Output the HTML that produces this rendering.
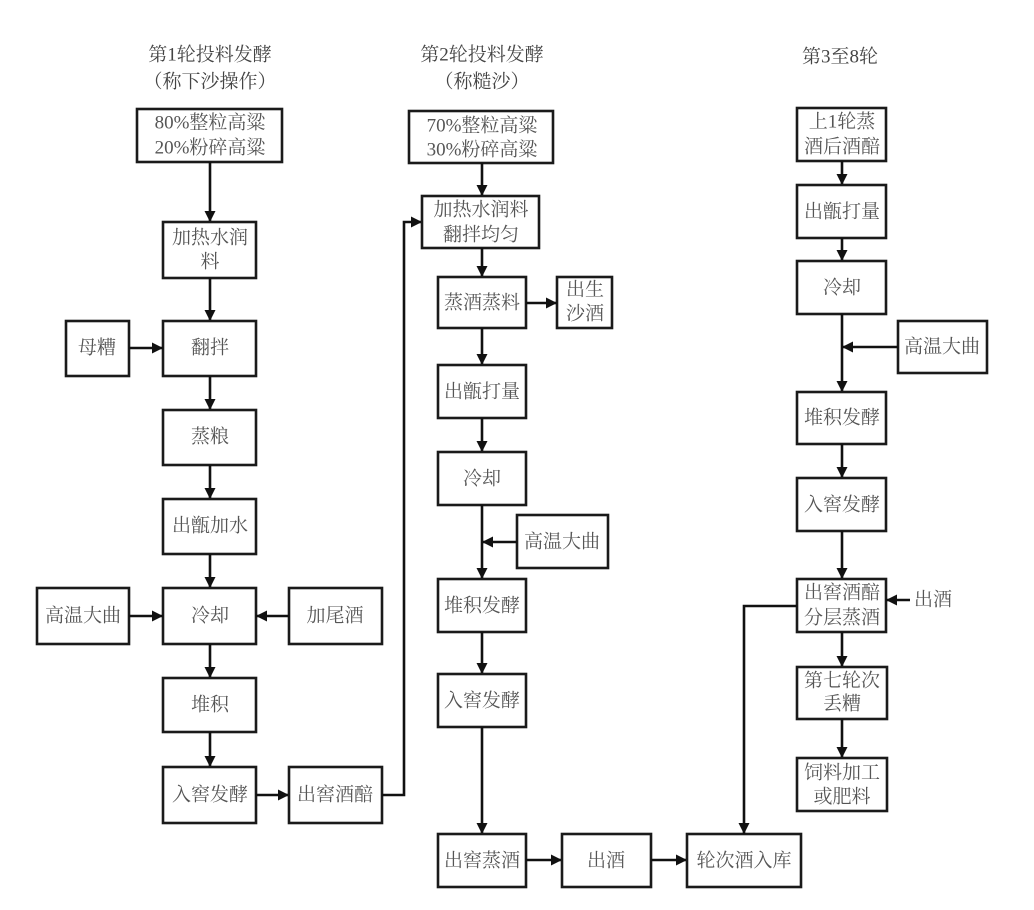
<!DOCTYPE html>
<html><head><meta charset="utf-8">
<style>
html,body{margin:0;padding:0;background:#fff;}
svg{display:block;}
text{font-family:"Liberation Serif","Noto Serif CJK SC","Noto Sans CJK SC",serif;font-size:19px;fill:#555;text-anchor:middle;dominant-baseline:central;}
.t{fill:#444;}
rect{fill:#fff;stroke:#1a1a1a;stroke-width:2.6;}
.l{stroke:#111;stroke-width:2.6;fill:none;}
</style></head>
<body>
<svg width="1034" height="910" viewBox="0 0 1034 910" xmlns="http://www.w3.org/2000/svg">
<defs>
<marker id="a" viewBox="0 0 10 10" refX="10" refY="5" markerWidth="11" markerHeight="11" markerUnits="userSpaceOnUse" orient="auto">
<path d="M0,0 L10,5 L0,10 z" fill="#111"/>
</marker>
</defs>

<!-- Column 1 -->
<text class="t" x="210" y="55">第1轮投料发酵</text>
<text class="t" x="210" y="82">（称下沙操作）</text>

<rect x="137" y="109" width="145" height="53"/>
<text x="210" y="123">80%整粒高粱</text>
<text x="210" y="148">20%粉碎高粱</text>
<line class="l" x1="210" y1="162" x2="210" y2="222" marker-end="url(#a)"/>

<rect x="163" y="222" width="93" height="56"/>
<text x="210" y="238">加热水润</text>
<text x="210" y="262">料</text>
<line class="l" x1="210" y1="278" x2="210" y2="321" marker-end="url(#a)"/>

<rect x="163" y="321" width="93" height="55"/>
<text x="210" y="348">翻拌</text>
<rect x="66" y="321" width="63" height="55"/>
<text x="97" y="348">母糟</text>
<line class="l" x1="129" y1="348" x2="163" y2="348" marker-end="url(#a)"/>
<line class="l" x1="210" y1="376" x2="210" y2="410" marker-end="url(#a)"/>

<rect x="163" y="410" width="93" height="55"/>
<text x="210" y="437">蒸粮</text>
<line class="l" x1="210" y1="465" x2="210" y2="499" marker-end="url(#a)"/>

<rect x="163" y="499" width="93" height="55"/>
<text x="210" y="526">出甑加水</text>
<line class="l" x1="210" y1="554" x2="210" y2="588" marker-end="url(#a)"/>

<rect x="163" y="588" width="93" height="56"/>
<text x="210" y="616">冷却</text>
<rect x="37" y="588" width="92" height="56"/>
<text x="83" y="616">高温大曲</text>
<line class="l" x1="129" y1="616" x2="163" y2="616" marker-end="url(#a)"/>
<rect x="289" y="588" width="93" height="56"/>
<text x="335" y="616">加尾酒</text>
<line class="l" x1="289" y1="616" x2="256" y2="616" marker-end="url(#a)"/>
<line class="l" x1="210" y1="644" x2="210" y2="678" marker-end="url(#a)"/>

<rect x="163" y="678" width="93" height="54"/>
<text x="210" y="705">堆积</text>
<line class="l" x1="210" y1="732" x2="210" y2="767" marker-end="url(#a)"/>

<rect x="163" y="767" width="93" height="56"/>
<text x="210" y="795">入窖发酵</text>
<line class="l" x1="256" y1="795" x2="289" y2="795" marker-end="url(#a)"/>
<rect x="289" y="767" width="93" height="56"/>
<text x="335" y="795">出窖酒醅</text>
<polyline class="l" points="382,795 404,795 404,222 422,222" marker-end="url(#a)"/>

<!-- Column 2 -->
<text class="t" x="482" y="55">第2轮投料发酵</text>
<text class="t" x="482" y="82">（称糙沙）</text>

<rect x="409" y="111" width="144" height="52"/>
<text x="482" y="126">70%整粒高粱</text>
<text x="482" y="150">30%粉碎高粱</text>
<line class="l" x1="482" y1="163" x2="482" y2="196" marker-end="url(#a)"/>

<rect x="422" y="196" width="117" height="52"/>
<text x="481" y="210">加热水润料</text>
<text x="481" y="235">翻拌均匀</text>
<line class="l" x1="482" y1="248" x2="482" y2="277" marker-end="url(#a)"/>

<rect x="438" y="277" width="88" height="51"/>
<text x="482" y="303">蒸酒蒸料</text>
<rect x="557" y="277" width="55" height="51"/>
<text x="585" y="290">出生</text>
<text x="585" y="314">沙酒</text>
<line class="l" x1="526" y1="303" x2="557" y2="303" marker-end="url(#a)"/>
<line class="l" x1="482" y1="328" x2="482" y2="365" marker-end="url(#a)"/>

<rect x="438" y="365" width="88" height="53"/>
<text x="482" y="392">出甑打量</text>
<line class="l" x1="482" y1="418" x2="482" y2="452" marker-end="url(#a)"/>

<rect x="438" y="452" width="88" height="53"/>
<text x="482" y="479">冷却</text>
<line class="l" x1="482" y1="505" x2="482" y2="579" marker-end="url(#a)"/>
<rect x="517" y="515" width="91" height="53"/>
<text x="562" y="542">高温大曲</text>
<line class="l" x1="517" y1="542" x2="482" y2="542" marker-end="url(#a)"/>

<rect x="438" y="579" width="88" height="53"/>
<text x="482" y="606">堆积发酵</text>
<line class="l" x1="482" y1="632" x2="482" y2="674" marker-end="url(#a)"/>

<rect x="438" y="674" width="88" height="53"/>
<text x="482" y="701">入窖发酵</text>
<line class="l" x1="482" y1="727" x2="482" y2="834" marker-end="url(#a)"/>

<rect x="438" y="834" width="88" height="53"/>
<text x="482" y="861">出窖蒸酒</text>
<line class="l" x1="526" y1="860" x2="562" y2="860" marker-end="url(#a)"/>
<rect x="562" y="834" width="89" height="53"/>
<text x="606" y="861">出酒</text>
<line class="l" x1="651" y1="860" x2="687" y2="860" marker-end="url(#a)"/>
<rect x="687" y="834" width="114" height="53"/>
<text x="744" y="861">轮次酒入库</text>

<!-- Column 3 -->
<text class="t" x="840" y="57">第3至8轮</text>

<rect x="797" y="108" width="89" height="53"/>
<text x="842" y="122">上1轮蒸</text>
<text x="842" y="147">酒后酒醅</text>
<line class="l" x1="842" y1="161" x2="842" y2="185" marker-end="url(#a)"/>

<rect x="797" y="185" width="89" height="53"/>
<text x="842" y="212">出甑打量</text>
<line class="l" x1="842" y1="238" x2="842" y2="261" marker-end="url(#a)"/>

<rect x="797" y="261" width="89" height="53"/>
<text x="842" y="288">冷却</text>
<line class="l" x1="842" y1="314" x2="842" y2="392" marker-end="url(#a)"/>
<rect x="898" y="321" width="89" height="52"/>
<text x="942" y="347">高温大曲</text>
<line class="l" x1="898" y1="347" x2="842" y2="347" marker-end="url(#a)"/>

<rect x="797" y="392" width="89" height="52"/>
<text x="842" y="418">堆积发酵</text>
<line class="l" x1="842" y1="444" x2="842" y2="478" marker-end="url(#a)"/>

<rect x="797" y="478" width="89" height="53"/>
<text x="842" y="505">入窖发酵</text>
<line class="l" x1="842" y1="531" x2="842" y2="579" marker-end="url(#a)"/>

<rect x="797" y="579" width="89" height="53"/>
<text x="842" y="593">出窖酒醅</text>
<text x="842" y="618">分层蒸酒</text>
<text x="933" y="600">出酒</text>
<line class="l" x1="910" y1="600" x2="886" y2="600" marker-end="url(#a)"/>
<polyline class="l" points="797,606 744,606 744,834" marker-end="url(#a)"/>
<line class="l" x1="842" y1="632" x2="842" y2="667" marker-end="url(#a)"/>

<rect x="797" y="667" width="90" height="52"/>
<text x="842" y="681">第七轮次</text>
<text x="842" y="704">丢糟</text>
<line class="l" x1="842" y1="719" x2="842" y2="758" marker-end="url(#a)"/>

<rect x="797" y="758" width="90" height="53"/>
<text x="842" y="773">饲料加工</text>
<text x="842" y="797">或肥料</text>
</svg>
</body></html>
